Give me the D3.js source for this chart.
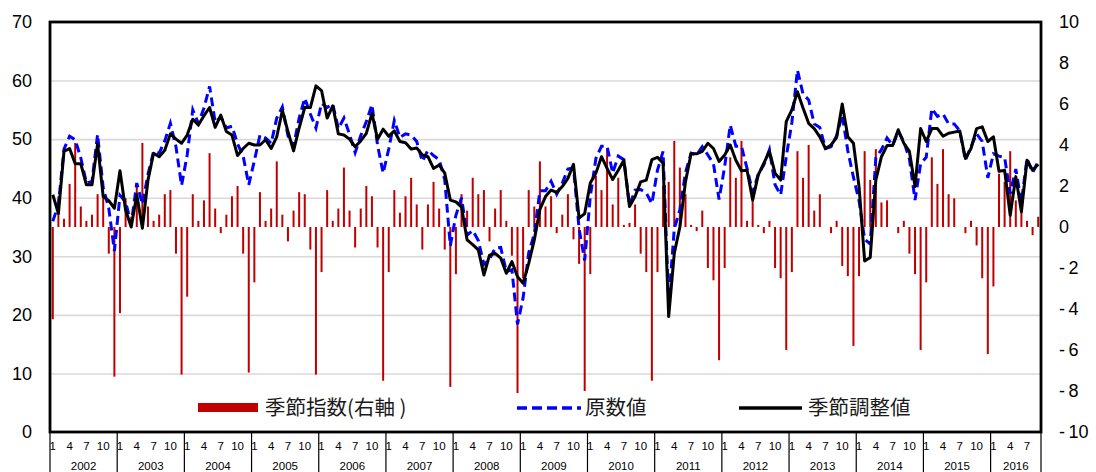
<!DOCTYPE html>
<html>
<head>
<meta charset="utf-8">
<script src="https://cdn.jsdelivr.net/npm/d3@7/dist/d3.min.js"></script>
<style>
    body { margin: 0; background: #fff; }
    #chart svg { display: block; }
</style>
</head>
<body>
<div id="chart"></div>
<script>
var YEARS        = [2002, 2003, 2004, 2005, 2006, 2007, 2008, 2009, 2010, 2011, 2012, 2013, 2014, 2015, 2016];
var LAST_MONTH   = 9;               // the series stops in Sep 2016
var MONTH_TICKS  = [1, 4, 7, 10];
var LEFT_TICKS   = [0, 10, 20, 30, 40, 50, 60, 70];
var GRID_TICKS   = [10, 20, 30, 40, 50, 60];
var RIGHT_TICKS  = [-10, -8, -6, -4, -2, 0, 2, 4, 6, 8, 10];
var LEGEND_NAMES = ["季節指数(右軸 )", "原数値", "季節調整値"];

// 季節指数 (right axis), one row per year
var seasonalIndex = [
    -4.5, 1.5, 0.4, 2.1, 4.1, 1.0, 0.3, 0.6, 1.6, 1.5, -1.3, -7.3,
    -4.2, 1.4, 0.5, 2.0, 4.1, 1.0, 0.3, 0.6, 1.6, 1.8, -1.3, -7.2,
    -3.4, 1.6, 0.3, 1.3, 3.6, 0.9, -0.3, 0.6, 1.5, 2.0, -1.3, -7.1,
    -2.7, 1.7, 0.3, 0.9, 3.2, 0.6, -0.7, 0.8, 1.7, 1.6, -1.1, -7.2,
    -2.2, 1.8, 0.3, 0.9, 2.9, 0.8, -1.0, 0.9, 2.0, 1.5, -1.0, -7.5,
    -2.2, 1.8, 0.7, 1.5, 2.4, 1.1, -1.1, 1.1, 2.2, 0.9, -1.1, -7.8,
    -2.3, 1.6, 0.8, 2.4, 1.6, 1.8, -0.7, 0.9, 1.8, 0.3, -1.4, -8.1,
    -2.5, 1.8, 1.0, 3.2, 1.0, 1.5, -0.3, 0.6, 1.6, -0.6, -1.8, -8.0,
    -2.3, 2.5, 1.8, 3.8, 1.1, 2.4, 0.1, 0.2, 1.1, -1.3, -2.2, -7.5,
    -2.2, 2.0, 2.2, 4.2, 2.9, 1.6, 0.1, -0.2, 0.8, -2.0, -2.6, -6.5,
    -2.0, 3.4, 2.4, 4.2, 0.3, 1.3, 0.1, -0.3, 0.3, -2.0, -2.5, -6.0,
    -2.2, 3.7, 2.4, 4.0, 0.8, 1.6, 0.0, -0.3, 0.3, -1.9, -2.4, -5.8,
    -2.4, 3.7, 2.3, 3.8, 1.2, 1.3, 0.0, -0.3, 0.3, -1.3, -2.3, -6.0,
    -2.7, 3.4, 2.1, 3.8, 1.6, 1.4, 0.0, -0.3, 0.3, -0.9, -2.5, -6.2,
    -2.9, 2.6, 2.2, 3.7, 1.3, 1.6, 0.3, -0.4, 0.5
];

// 原数値 (left axis)
var rawValues = [
    36.0, 38.8, 48.3, 50.5, 49.9, 46.8, 42.5, 42.8, 50.8, 41.7, 38.2, 30.9,
    40.4, 39.3, 35.5, 42.5, 38.9, 44.0, 47.9, 47.6, 49.7, 52.7, 48.7, 42.1,
    47.3, 55.0, 52.7, 55.3, 59.0, 52.9, 53.8, 51.9, 52.2, 49.2, 47.1, 42.2,
    46.3, 50.7, 50.2, 49.3, 53.6, 55.5, 50.6, 48.8, 53.6, 57.0, 54.3, 51.9,
    56.1, 55.4, 56.0, 51.8, 53.6, 50.8, 47.7, 50.6, 53.0, 55.9, 49.0, 44.2,
    48.3, 53.2, 50.3, 50.9, 50.7, 49.6, 46.2, 48.1, 47.2, 46.5, 43.1, 31.8,
    37.0, 40.0, 33.6, 34.4, 32.7, 28.6, 29.5, 31.4, 31.5, 27.4, 27.7, 18.4,
    22.9, 30.6, 33.8, 41.2, 41.2, 42.8, 40.6, 42.5, 44.9, 45.1, 34.7, 29.3,
    40.2, 46.7, 48.8, 48.8, 44.2, 47.1, 46.5, 38.7, 41.3, 41.4, 40.8, 39.0,
    44.7, 47.9, 21.9, 34.7, 37.9, 44.3, 47.6, 47.3, 48.7, 47.3, 45.8, 39.7,
    45.3, 52.4, 48.8, 48.8, 45.0, 40.9, 44.0, 45.6, 48.2, 42.2, 40.5, 47.0,
    52.8, 61.8, 57.7, 56.7, 52.6, 52.0, 48.4, 48.7, 50.6, 54.1, 48.0, 43.5,
    39.5, 32.9, 32.1, 46.8, 48.2, 50.2, 48.9, 51.3, 49.6, 46.6, 39.6, 45.8,
    46.9, 55.2, 53.9, 54.3, 52.6, 52.6, 51.4, 46.4, 48.7, 50.9, 49.6, 43.4,
    47.5, 47.1, 46.9, 40.7, 44.9, 39.2, 46.7, 44.3, 46.2
];

// 季節調整値 (left axis)
var adjustedValues = [
    40.5, 37.3, 47.9, 48.4, 45.8, 45.8, 42.2, 42.2, 49.2, 40.2, 39.5, 38.2,
    44.6, 37.9, 35.0, 40.5, 34.8, 43.0, 47.6, 47.0, 48.1, 50.9, 50.0, 49.3,
    50.7, 53.4, 52.4, 54.0, 55.4, 52.0, 54.1, 51.3, 50.7, 47.2, 48.4, 49.3,
    49.0, 49.0, 49.9, 48.4, 50.4, 54.9, 51.3, 48.0, 51.9, 55.4, 55.4, 59.1,
    58.3, 53.6, 55.7, 50.9, 50.7, 50.0, 48.7, 49.7, 51.0, 54.4, 50.0, 51.7,
    50.5, 51.4, 49.6, 49.4, 48.3, 48.5, 47.3, 47.0, 45.0, 45.6, 44.2, 39.6,
    39.3, 38.4, 32.8, 32.0, 31.1, 26.8, 30.2, 30.5, 29.7, 27.1, 29.1, 26.5,
    25.4, 28.8, 32.8, 38.0, 40.2, 41.3, 40.9, 41.9, 43.3, 45.7, 36.5, 37.3,
    42.5, 44.2, 47.0, 45.0, 43.1, 44.7, 46.4, 38.5, 40.2, 42.7, 43.0, 46.5,
    46.9, 45.9, 19.7, 30.5, 35.0, 42.7, 47.5, 47.5, 47.9, 49.3, 48.4, 46.2,
    47.3, 49.0, 46.4, 44.6, 44.7, 39.6, 43.9, 45.9, 47.9, 44.2, 43.0, 53.0,
    55.0, 58.1, 55.3, 52.7, 51.8, 50.4, 48.4, 49.0, 50.3, 56.0, 50.4, 49.3,
    41.9, 29.2, 29.8, 43.0, 47.0, 48.9, 48.9, 51.6, 49.3, 47.9, 41.9, 51.8,
    49.6, 51.8, 51.8, 50.5, 51.0, 51.2, 51.4, 46.7, 48.4, 51.8, 52.1, 49.6,
    50.4, 44.5, 44.7, 37.0, 43.6, 37.6, 46.4, 44.7, 45.7
];

var NUM_FONT = "'Liberation Sans', Arial, sans-serif";
var JP_FONT  = "'Noto Sans CJK JP', 'Liberation Sans', sans-serif";

/**
 * Month categories (one per data point)
 *
 * @returns {Array} list of {year, month, key}
 */
function getMonths(){
    var list = [];
    YEARS.forEach(function(y, yi){
        var n = (yi === YEARS.length - 1) ? LAST_MONTH : 12;
        for (var m = 1; m <= n; m++) {
            list.push({year: y, month: m, key: y + "-" + m});
        }
    });
    return list;
}

/**
 * Draws the whole chart
 *
 * @param {Element} element
 * @param {Number} width
 * @param {Number} height
 * @param {Object} margins
 */
function drawChart(element, width, height, margins){
    var months = getMonths();
    var keys = months.map(function(d) { return d.key; });

    var pw = width - margins.left - margins.right,
        ph = height - margins.top - margins.bottom;

    /* SVG */
    var svg = d3.select(element)
        .append("svg")
            .attr("width", width)
            .attr("height", height)
            .style("background", "#fff");

    var main = svg.append("g")
        .attr("transform", "translate(" + margins.left + "," + margins.top + ")");

    /* Scales */
    var x = d3.scaleBand()
        .domain(keys)
        .range([0, pw]);
    var yLeft = d3.scaleLinear()
        .domain([0, 70])
        .range([ph, 0]);
    var yRight = d3.scaleLinear()
        .domain([-10, 10])
        .range([ph, 0]);
    var bw = x.bandwidth();
    function cx(key) { return x(key) + bw / 2; }

    /* Grid */
    var grid = main.append("g")
        .call(d3.axisLeft(yLeft).tickValues(GRID_TICKS).tickSize(-pw).tickFormat(""));
    grid.select(".domain").remove();
    grid.selectAll("line")
        .attr("stroke", "#d9d9d9")
        .attr("stroke-width", 1.6);

    /* Seasonal index bars */
    main.selectAll(".si")
        .data(months)
        .enter()
        .append("rect")
            .attr("class", "si")
            .attr("x", function(d) { return cx(d.key) - 1; })
            .attr("width", 2)
            .attr("y", function(d, i) { return yRight(Math.max(0, seasonalIndex[i])); })
            .attr("height", function(d, i) { return Math.abs(yRight(seasonalIndex[i]) - yRight(0)); })
            .attr("fill", "#c00000");

    /* Lines */
    var line = d3.line()
        .x(function(d, i) { return cx(keys[i]); })
        .y(function(d) { return yLeft(d); });

    main.append("path")
        .datum(rawValues)
        .attr("fill", "none")
        .attr("stroke", "#0000ff")
        .attr("stroke-width", 3)
        .attr("stroke-dasharray", "9,5")
        .attr("d", line);

    main.append("path")
        .datum(adjustedValues)
        .attr("fill", "none")
        .attr("stroke", "#000")
        .attr("stroke-width", 3)
        .attr("stroke-linejoin", "round")
        .attr("d", line);

    /* Legend - sits inside the plot, near the bottom */
    var legend = main.append("g")
        .attr("transform", "translate(0," + (408 - margins.top) + ")");
    legend.append("rect")
        .attr("x", 148).attr("y", -5)
        .attr("width", 60).attr("height", 9)
        .attr("fill", "#c00000");
    legend.append("line")
        .attr("x1", 467).attr("x2", 531).attr("y1", 0).attr("y2", 0)
        .attr("stroke", "#0000ff").attr("stroke-width", 3.5)
        .attr("stroke-dasharray", "10,5");
    legend.append("line")
        .attr("x1", 689).attr("x2", 752).attr("y1", 0).attr("y2", 0)
        .attr("stroke", "#000").attr("stroke-width", 3.5);
    legend.selectAll("text")
        .data(LEGEND_NAMES)
        .enter()
        .append("text")
            .attr("x", function(d, i) { return [215, 535, 758][i]; })
            .attr("y", 7)
            .attr("font-family", JP_FONT)
            .attr("font-size", 20.5)
            .attr("fill", "#1a1a1a")
            .text(function(d) { return d; });

    /* Left axis */
    var leftAxis = main.append("g")
        .call(d3.axisLeft(yLeft).tickValues(LEFT_TICKS).tickSize(0).tickPadding(18));
    leftAxis.select(".domain").remove();
    leftAxis.selectAll("text")
        .attr("font-family", NUM_FONT)
        .attr("font-size", 18)
        .attr("fill", "#000");

    /* Right axis */
    var rightAxis = main.append("g")
        .attr("transform", "translate(" + pw + ",0)")
        .call(d3.axisRight(yRight).tickValues(RIGHT_TICKS).tickSize(0).tickPadding(18)
            .tickFormat(function(d) { return d < 0 ? "-\u2009" + Math.abs(d) : d; }));
    rightAxis.select(".domain").remove();
    rightAxis.selectAll("text")
        .attr("font-family", NUM_FONT)
        .attr("font-size", 18)
        .attr("fill", "#000");

    /* Month axis (two levels) */
    var monthAxis = main.append("g")
        .attr("transform", "translate(0," + ph + ")")
        .call(d3.axisBottom(x)
            .tickValues(months.filter(function(d) { return MONTH_TICKS.indexOf(d.month) >= 0; })
                .map(function(d) { return d.key; }))
            .tickFormat(function(k) { return k.split("-")[1]; })
            .tickSize(0)
            .tickPadding(10));
    monthAxis.select(".domain").remove();
    monthAxis.selectAll("text")
        .attr("font-family", NUM_FONT)
        .attr("font-size", 11.5)
        .attr("fill", "#000");

    var yearGroups = d3.groups(months, function(d) { return d.year; });
    var yearAxis = main.append("g")
        .attr("transform", "translate(0," + ph + ")");
    yearAxis.selectAll(".sep")
        .data(yearGroups.map(function(g) { return x(g[1][0].key); }).concat([pw]))
        .enter()
        .append("line")
            .attr("x1", function(d) { return d; })
            .attr("x2", function(d) { return d; })
            .attr("y1", 0)
            .attr("y2", margins.bottom)
            .attr("stroke", "#000")
            .attr("stroke-width", 1.2);
    yearAxis.selectAll(".yr")
        .data(yearGroups)
        .enter()
        .append("text")
            .attr("x", function(g) {
                var a = x(g[1][0].key), b = x(g[1][g[1].length - 1].key) + bw;
                return (a + b) / 2;
            })
            .attr("y", 38)
            .attr("text-anchor", "middle")
            .attr("font-family", NUM_FONT)
            .attr("font-size", 11.5)
            .attr("fill", "#000")
            .text(function(g) { return g[0]; });

    /* Plot frame */
    main.append("rect")
        .attr("width", pw)
        .attr("height", ph)
        .attr("fill", "none")
        .attr("stroke", "#000")
        .attr("stroke-width", 2.8);
}

var chart_el      = document.getElementById("chart"),
    chart_width   = 1096,
    chart_height  = 472,
    chart_margins = {top: 22, right: 55, bottom: 40, left: 50};

drawChart(chart_el, chart_width, chart_height, chart_margins);
</script>
</body>
</html>
